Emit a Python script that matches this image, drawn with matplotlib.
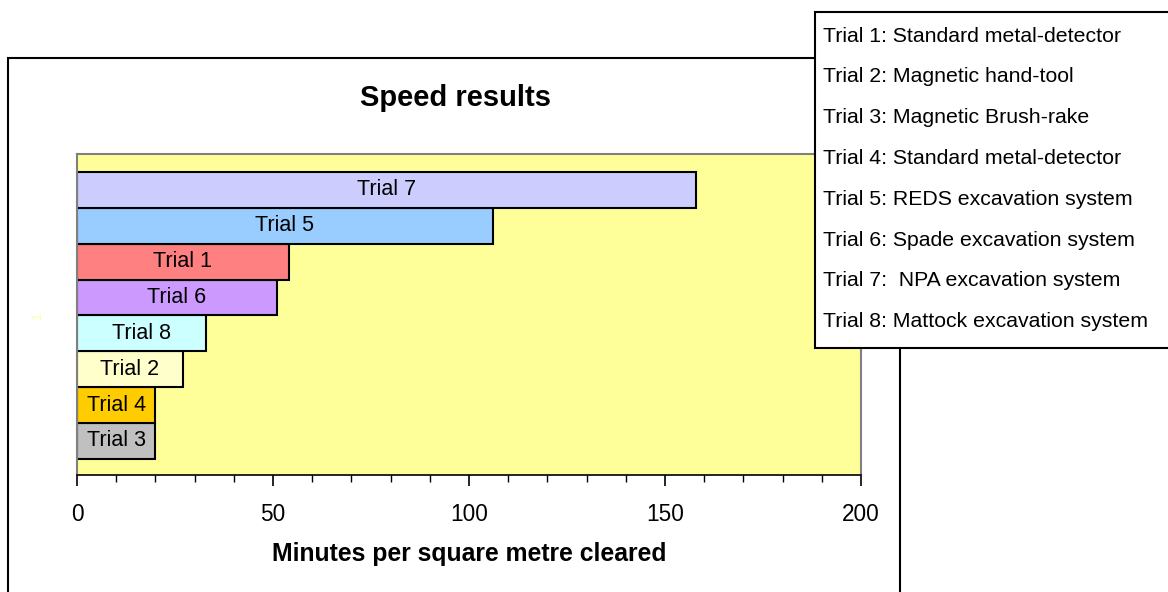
import matplotlib.pyplot as plt
from matplotlib.patches import Rectangle
from matplotlib.ticker import MultipleLocator

plt.rcParams['font.family'] = ['Liberation Sans', 'DejaVu Sans']

# bars from bottom to top
trials = ['Trial 3', 'Trial 4', 'Trial 2', 'Trial 8', 'Trial 6', 'Trial 1', 'Trial 5', 'Trial 7']
minutes = [20, 20, 27, 33, 51, 54, 106, 158]
colors = ['#C0C0C0', '#FFCC00', '#FFFFCC', '#CCFFFF', '#CC99FF', '#FF8080', '#99CCFF', '#CCCCFF']

descriptions = [
    'Trial 1: Standard metal-detector',
    'Trial 2: Magnetic hand-tool',
    'Trial 3: Magnetic Brush-rake',
    'Trial 4: Standard metal-detector',
    'Trial 5: REDS excavation system',
    'Trial 6: Spade excavation system',
    'Trial 7:  NPA excavation system',
    'Trial 8: Mattock excavation system',
]

W, H = 1168, 592


def plot():
    fig = plt.figure(figsize=(W / 100, H / 100), dpi=100)

    # outer chart frame
    fig.patches.append(Rectangle((8 / W, -0.01), (900 - 8) / W, 1.01 - 58 / H,
                                 transform=fig.transFigure, fill=False,
                                 edgecolor='black', linewidth=1.5))

    ax = fig.add_axes([77 / W, 1 - 475 / H, (861 - 77) / W, (475 - 154) / H])
    ax.set_facecolor('#FFFF99')
    ypos = list(range(len(trials)))
    ax.barh(ypos, minutes, height=1.0, color=colors, edgecolor='black', linewidth=1.5)
    for y, v, name in zip(ypos, minutes, trials):
        ax.text(v / 2, y, name, ha='center', va='center', fontsize=15.5)

    ax.set_xlim(0, 200)
    ax.set_ylim(-0.95, 8.0)
    ax.set_yticks([])
    ax.xaxis.set_major_locator(MultipleLocator(50))
    ax.xaxis.set_minor_locator(MultipleLocator(10))
    ax.tick_params(axis='x', which='major', length=8, width=1.2, labelsize=16.3, pad=12)
    ax.tick_params(axis='x', which='minor', length=5, width=1)
    for side in ['left', 'top', 'right']:
        ax.spines[side].set_color('#808080')
        ax.spines[side].set_linewidth(1.5)
    ax.spines['bottom'].set_color('black')
    ax.spines['bottom'].set_linewidth(1.2)

    ax.set_xlabel('Minutes per square metre cleared', fontsize=17.8, fontweight='bold', labelpad=12)
    fig.text(456 / W, 1 - 98 / H, 'Speed results', ha='center', va='center',
             fontsize=21, fontweight='bold')
    fig.text(37 / W, 1 - 315 / H, '1', ha='center', va='center', rotation=90,
             fontsize=10, color='#FFFFB0')

    # legend box
    fig.patches.append(Rectangle((815 / W, 1 - 348 / H), (W - 815 + 5) / W, (348 - 12) / H,
                                 transform=fig.transFigure, facecolor='white',
                                 edgecolor='black', linewidth=1.5, zorder=5))
    for i, d in enumerate(descriptions):
        fig.text(823 / W, 1 - (36 + i * 40.8) / H, d, ha='left', va='center',
                 fontsize=15.3, zorder=6)

    plt.savefig('out.png', dpi=100)


if __name__ == '__main__':
    plot()
